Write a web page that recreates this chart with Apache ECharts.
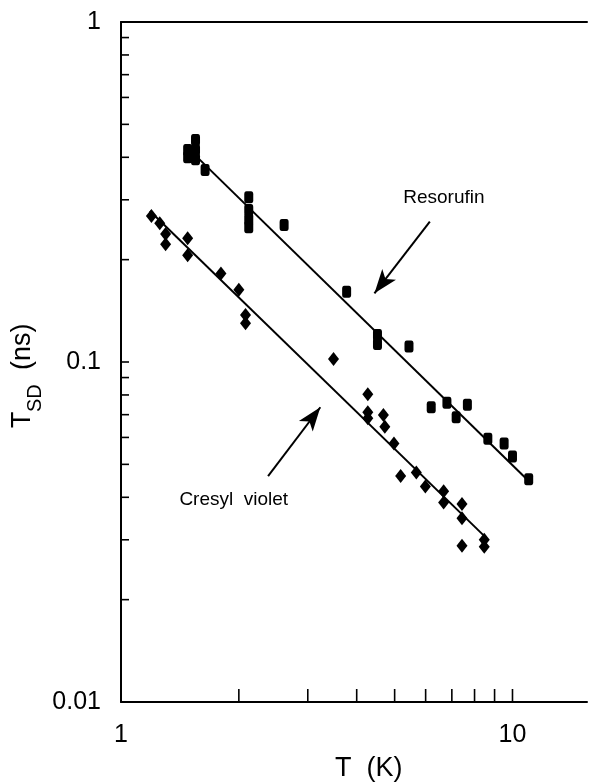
<!DOCTYPE html>
<html>
<head>
<meta charset="utf-8">
<script src="https://cdn.jsdelivr.net/npm/echarts@6/dist/echarts.min.js"></script>
<style>
  html, body { margin: 0; padding: 0; background: #ffffff; }
  #chart { width: 590px; height: 784px; }
</style>
</head>
<body>
<div id="chart"></div>
<script>
// Spectral-diffusion time T_SD versus temperature, log-log
const resorufinT   = [1.48, 1.48, 1.55, 1.55, 1.55, 1.64, 2.12, 2.12, 2.12, 2.12, 2.61, 3.77, 4.52, 4.52, 5.44, 6.20, 6.80, 7.18, 7.67, 8.65, 9.52, 10.0, 11.0];
const resorufinTau = [0.42, 0.40, 0.45, 0.42, 0.395, 0.367, 0.305, 0.280, 0.263, 0.249, 0.253, 0.161, 0.120, 0.113, 0.111, 0.0736, 0.0759, 0.0688, 0.0749, 0.0595, 0.0576, 0.0527, 0.0452];

const cresylT   = [1.196, 1.256, 1.30, 1.30, 1.48, 1.48, 1.80, 2.00, 2.08, 2.08, 3.49, 4.27, 4.27, 4.27, 4.68, 4.72, 4.98, 5.18, 5.68, 5.99, 6.67, 6.67, 7.43, 7.43, 7.43, 8.47, 8.47];
const cresylTau = [0.269, 0.256, 0.238, 0.222, 0.231, 0.206, 0.182, 0.163, 0.1375, 0.130, 0.102, 0.0804, 0.0711, 0.0683, 0.0698, 0.0645, 0.0576, 0.0462, 0.0473, 0.0430, 0.0417, 0.0386, 0.0382, 0.0347, 0.0288, 0.0300, 0.0286];

// Power-law fit lines (end points)
const resorufinFitT   = [1.50, 11.03];
const resorufinFitTau = [0.420, 0.0445];
const cresylFitT   = [1.185, 8.49];
const cresylFitTau = [0.278, 0.0307];

// Axis ranges and tick values
const xRange = [1, 15.5];
const yRange = [0.01, 1];
const xMajorLabels = [1, 10];
const yMajorLabels = [0.01, 0.1, 1];
const xTicks = [2, 3, 4, 5, 6, 7, 8, 9, 10];
const yTicks = [0.02, 0.03, 0.04, 0.05, 0.06, 0.07, 0.08, 0.09, 0.1, 0.2, 0.3, 0.4, 0.5, 0.6, 0.7, 0.8, 0.9];

// Annotations: arrows (tail -> head) and their captions
const resorufinArrow = [[6.15, 0.2586], [4.44, 0.1592]];
const cresylArrow    = [[2.375, 0.0462], [3.23, 0.0736]];
const resorufinCaption = { text: 'Resorufin', at: [6.68, 0.3036] };
const cresylCaption    = { text: 'Cresyl  violet', at: [1.941, 0.0393] };

const FONT = '"Liberation Sans", Arial, Helvetica, sans-serif';
const zip = (a, b) => a.map((v, i) => [v, b[i]]);

const chart = echarts.init(document.getElementById('chart'), null, { renderer: 'canvas' });

// Inward tick marks along the bottom (horizontal=true) or left axis
function tickSeries(values, horizontal) {
  return {
    type: 'custom',
    coordinateSystem: 'cartesian2d',
    silent: true,
    clip: false,
    data: values.map(v => horizontal ? [v, yRange[0]] : [xRange[0], v]),
    renderItem: function (params, api) {
      const p = api.coord([api.value(0), api.value(1)]);
      const shape = horizontal
        ? { x1: p[0], y1: p[1], x2: p[0], y2: p[1] - 13 }
        : { x1: p[0], y1: p[1], x2: p[0] + 8, y2: p[1] };
      return { type: 'line', shape: shape, style: { stroke: '#000', lineWidth: 1.6 } };
    },
    z: 5
  };
}

function arrowMarkLine(arrow) {
  return {
    silent: true, symbol: ['none', 'arrow'], symbolSize: [13, 24],
    lineStyle: { color: '#000', width: 2, type: 'solid', opacity: 1 },
    itemStyle: { color: '#000' },
    label: { show: false },
    data: [[{ coord: arrow[0] }, { coord: arrow[1] }]]
  };
}

function captionMarkPoint(caption) {
  return {
    silent: true, symbol: 'circle', symbolSize: 1, itemStyle: { color: 'rgba(0,0,0,0)' },
    label: { show: true, position: 'inside', color: '#000', fontFamily: FONT, fontSize: 19, formatter: caption.text },
    data: [{ coord: caption.at }]
  };
}

const option = {
  animation: false,
  backgroundColor: '#ffffff',
  grid: { left: 121, top: 22, right: 0, bottom: 82, containLabel: false },
  xAxis: [{
    type: 'log', logBase: 10, min: xRange[0], max: xRange[1],
    axisLine: { show: true, lineStyle: { color: '#000', width: 2 } },
    axisTick: { show: false },
    axisLabel: {
      show: true, margin: 21, color: '#000', fontFamily: FONT, fontSize: 25,
      formatter: v => xMajorLabels.some(m => Math.abs(m - v) < 1e-9) ? String(v) : ''
    },
    splitLine: { show: false }
  }, {
    type: 'log', logBase: 10, min: xRange[0], max: xRange[1], position: 'top',
    axisLine: { show: true, lineStyle: { color: '#000', width: 2 } },
    axisTick: { show: false }, axisLabel: { show: false }, splitLine: { show: false }
  }],
  yAxis: [{
    type: 'log', logBase: 10, min: yRange[0], max: yRange[1],
    axisLine: { show: true, lineStyle: { color: '#000', width: 2 } },
    axisTick: { show: false },
    axisLabel: {
      show: true, margin: 20, color: '#000', fontFamily: FONT, fontSize: 25,
      formatter: v => {
        const m = yMajorLabels.find(t => Math.abs(t - v) / t < 1e-6);
        return m === undefined ? '' : String(m);
      }
    },
    splitLine: { show: false }
  }],
  series: [
    {
      name: 'Resorufin', type: 'scatter', data: zip(resorufinT, resorufinTau),
      symbol: 'roundRect', symbolSize: [9, 12], itemStyle: { color: '#000', opacity: 1 }, z: 4,
      markLine: arrowMarkLine(resorufinArrow),
      markPoint: captionMarkPoint(resorufinCaption)
    },
    {
      name: 'Cresyl violet', type: 'scatter', data: zip(cresylT, cresylTau),
      symbol: 'diamond', symbolSize: [11, 14], itemStyle: { color: '#000', opacity: 1 }, z: 4,
      markLine: arrowMarkLine(cresylArrow),
      markPoint: captionMarkPoint(cresylCaption)
    },
    {
      name: 'Resorufin fit', type: 'line', data: zip(resorufinFitT, resorufinFitTau),
      showSymbol: false, lineStyle: { color: '#000', width: 2 }, z: 3
    },
    {
      name: 'Cresyl violet fit', type: 'line', data: zip(cresylFitT, cresylFitTau),
      showSymbol: false, lineStyle: { color: '#000', width: 2 }, z: 3
    },
    tickSeries(xTicks, true),
    tickSeries(yTicks, false)
  ],
  graphic: [
    {
      type: 'text', left: 335, top: 755,
      style: { text: 'T  (K)', fill: '#000', font: '27px ' + FONT }
    },
    {
      type: 'group', x: 36, y: 428, rotation: Math.PI / 2,
      children: [
        { type: 'text', x: 0, y: 0, style: { text: 'T', fill: '#000', font: '27px ' + FONT, textVerticalAlign: 'bottom' } },
        { type: 'text', x: 16, y: 9, style: { text: 'SD', fill: '#000', font: '20px ' + FONT, textVerticalAlign: 'bottom' } },
        { type: 'text', x: 58, y: 0, style: { text: '(ns)', fill: '#000', font: '27px ' + FONT, textVerticalAlign: 'bottom' } }
      ]
    }
  ]
};

chart.setOption(option);
</script>
</body>
</html>
